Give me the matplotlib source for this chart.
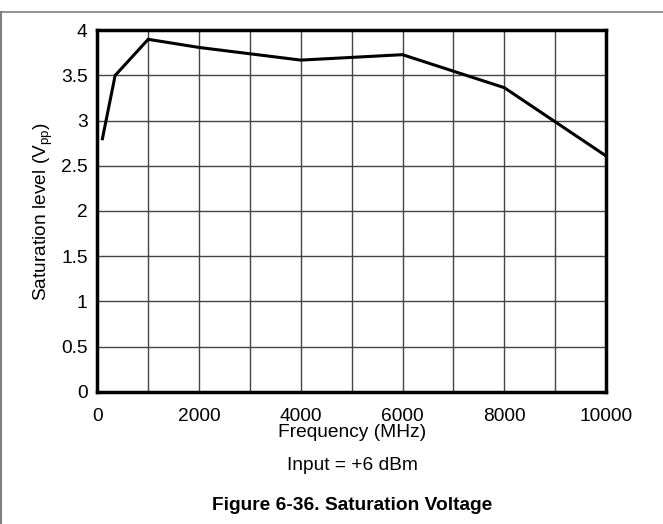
#!/usr/bin/env python3
import matplotlib
matplotlib.use("Agg")
import matplotlib.pyplot as plt
from matplotlib.lines import Line2D
from matplotlib.ticker import MultipleLocator, FormatStrFormatter

plt.rcParams['font.family'] = ['Liberation Sans', 'DejaVu Sans']

# values
freq_mhz = [100, 350, 1000, 2000, 4000, 6000, 8000, 10000]
sat_vpp = [2.8, 3.5, 3.9, 3.81, 3.67, 3.73, 3.365, 2.61]
x_ticks = [0, 2000, 4000, 6000, 8000, 10000]

FS = 13.8


def plot_sat(freq_mhz, sat_vpp):
    fig = plt.figure(figsize=(6.63, 5.24), dpi=100)
    ax = fig.add_axes([0.1468, 0.2525, 0.7672, 0.6897])

    ax.plot(freq_mhz, sat_vpp, color='black', lw=2.2, solid_joinstyle='miter')

    ax.set_xlim(0, 10000)
    ax.set_ylim(0, 4)
    ax.set_xticks(x_ticks)
    ax.xaxis.set_minor_locator(MultipleLocator(1000))
    ax.yaxis.set_major_locator(MultipleLocator(0.5))
    ax.yaxis.set_major_formatter(FormatStrFormatter('%g'))
    ax.grid(True, which='both', color='#444444', lw=1)
    ax.tick_params(which='both', length=0, labelsize=FS)
    ax.tick_params(axis='x', pad=12)
    ax.tick_params(axis='y', pad=7)
    for s in ax.spines.values():
        s.set_linewidth(2.5)
        s.set_zorder(5)

    ax.set_xlabel("Frequency (MHz)", fontsize=FS, labelpad=-1)
    ax.set_ylabel("Saturation level (V$_{\\mathregular{pp}}$)", fontsize=FS, labelpad=4.5)

    fig.text(0.531, 1 - 466 / 524, "Input = +6 dBm", ha='center', va='center', fontsize=FS)
    fig.text(0.531, 1 - 505 / 524, "Figure 6-36. Saturation Voltage", ha='center',
             va='center', fontsize=FS, fontweight='bold')

    # page frame lines
    fig.add_artist(Line2D([0, 1], [1 - 12 / 524] * 2, color='#808080', lw=1.2,
                          transform=fig.transFigure))
    fig.add_artist(Line2D([0.5 / 663] * 2, [0, 1 - 12 / 524], color='#808080', lw=1.5,
                          transform=fig.transFigure))

    fig.savefig("out.png", dpi=100)


def main():
    plot_sat(freq_mhz, sat_vpp)


if __name__ == '__main__':
    main()
